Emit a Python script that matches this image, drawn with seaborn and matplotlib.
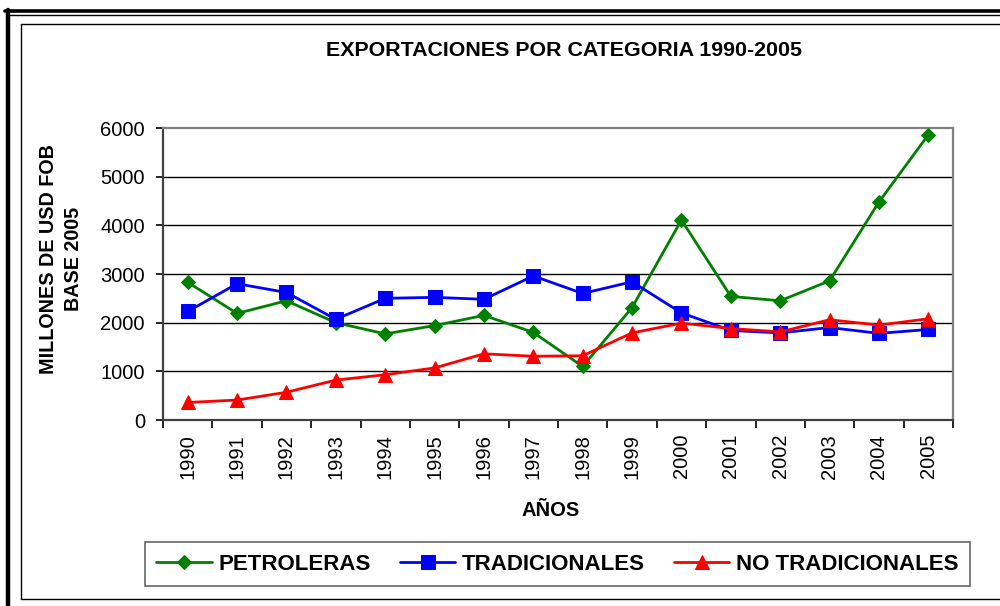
import matplotlib
matplotlib.use("Agg")
import matplotlib.pyplot as plt
from matplotlib.lines import Line2D
from matplotlib.ticker import FixedLocator
import seaborn as sns
import pandas as pd

years = list(range(1990, 2006))
petroleras = [2830, 2190, 2450, 2000, 1770, 1940, 2150, 1800, 1100, 2310,
              4110, 2540, 2450, 2860, 4480, 5860]
tradicionales = [2230, 2800, 2620, 2070, 2500, 2520, 2480, 2960, 2600, 2840,
                 2200, 1840, 1790, 1900, 1780, 1860]
no_tradicionales = [360, 410, 570, 820, 930, 1070, 1360, 1310, 1320, 1790,
                    1990, 1880, 1810, 2060, 1950, 2080]
series_names = ["PETROLERAS", "TRADICIONALES", "NO TRADICIONALES"]
yticks = [0, 1000, 2000, 3000, 4000, 5000, 6000]

title = "EXPORTACIONES POR CATEGORIA 1990-2005"
ylabel = "MILLONES DE USD FOB\nBASE 2005"
xlabel = "AÑOS"

sns.set_style("white")
plt.rcParams["font.family"] = ["Liberation Sans", "DejaVu Sans"]
plt.rcParams["text.color"] = "black"
plt.rcParams["axes.labelcolor"] = "black"
plt.rcParams["xtick.color"] = "black"
plt.rcParams["ytick.color"] = "black"

W, H = 1000, 606
fig = plt.figure(figsize=(W / 100, H / 100), dpi=100)
fig.patch.set_facecolor("white")


def fy(p):
    return 1 - p / H


def fx(p):
    return p / W


ax = fig.add_axes([fx(163), fy(420), fx(953) - fx(163), fy(128) - fy(420)])

styles = [
    dict(color="#008000", marker="D", markersize=7.0),
    dict(color="#0000FF", marker="s", markersize=10.5),
    dict(color="#FF0000", marker="^", markersize=10.5),
]
data = [petroleras, tradicionales, no_tradicionales]
for i, (name, vals, st) in enumerate(zip(series_names, data, styles)):
    df = pd.DataFrame({"year": years, "value": vals})
    sns.lineplot(data=df, x="year", y="value", ax=ax, color=st["color"],
                 marker=st["marker"], markersize=st["markersize"],
                 markeredgecolor=st["color"], markerfacecolor=st["color"],
                 linewidth=2.0, label=name, legend=False, zorder=3 + i)

ax.set_xlim(years[0] - 0.5, years[-1] + 0.5)
ax.set_ylim(0, 6000)
ax.set_yticks(yticks)
ax.set_yticklabels([str(v) for v in yticks], fontsize=14.5, color="black")
ax.set_xticks(years)
ax.set_xticklabels([str(y) for y in years], rotation=90, fontsize=14.5,
                   color="black")
ax.xaxis.set_minor_locator(FixedLocator([y - 0.5 for y in years] + [years[-1] + 0.5]))
ax.tick_params(axis="x", which="major", length=0, pad=10, colors="black")
ax.tick_params(axis="x", which="minor", length=6, width=1.2, color="black",
               direction="out", bottom=True)
ax.tick_params(axis="y", which="major", length=5, width=1.2, color="black",
               direction="out", left=True, pad=8)
ax.set_xlabel("")
ax.set_ylabel("")

ax.grid(False)
for v in yticks[1:-1]:
    ax.axhline(v, color="black", linewidth=1.0, zorder=1)

ax.spines["left"].set_color("#404040")
ax.spines["bottom"].set_color("#404040")
ax.spines["top"].set_color("#808080")
ax.spines["right"].set_color("#808080")
for s in ax.spines.values():
    s.set_linewidth(1.6)
    s.set_visible(True)

# titles and labels
fig.text(fx(564.5), fy(50), title, ha="center", va="center",
         fontsize=15.4, fontweight="bold", color="black")
fig.text(fx(61), fy(259), ylabel, ha="center", va="center", rotation=90,
         fontsize=14.2, fontweight="bold", multialignment="center",
         linespacing=1.38, color="black")
fig.text(fx(551), fy(510), xlabel, ha="center", va="center",
         fontsize=14.5, fontweight="bold", color="black")

# legend
handles, labels = ax.get_legend_handles_labels()
leg = fig.legend(handles, labels, loc="center",
                 bbox_to_anchor=(fx(557.5), fy(564)), ncol=3,
                 prop={"weight": "bold", "size": 16},
                 frameon=True, fancybox=False, shadow=False,
                 handlelength=2.5, handletextpad=0.3, columnspacing=1.3,
                 borderpad=0.5, borderaxespad=0)
leg.get_frame().set_edgecolor("#404040")
leg.get_frame().set_linewidth(1.2)
for t in leg.get_texts():
    t.set_color("black")

# outer borders
fig.add_artist(Line2D([fx(5), fx(1000)], [fy(11), fy(11)], color="black", linewidth=2.6))
fig.add_artist(Line2D([fx(9), fx(1000)], [fy(15), fy(15)], color="black", linewidth=1.0))
fig.add_artist(Line2D([fx(7.5), fx(7.5)], [fy(10), fy(606)], color="black", linewidth=3.2))
fig.add_artist(Line2D([fx(20.5), fx(20.5)], [fy(24), fy(599)], color="black", linewidth=1.0))
fig.add_artist(Line2D([fx(20.5), fx(1000)], [fy(24), fy(24)], color="black", linewidth=1.0))
fig.add_artist(Line2D([fx(20.5), fx(1000)], [fy(599), fy(599)], color="black", linewidth=1.0))

fig.savefig("out.png", dpi=100)
